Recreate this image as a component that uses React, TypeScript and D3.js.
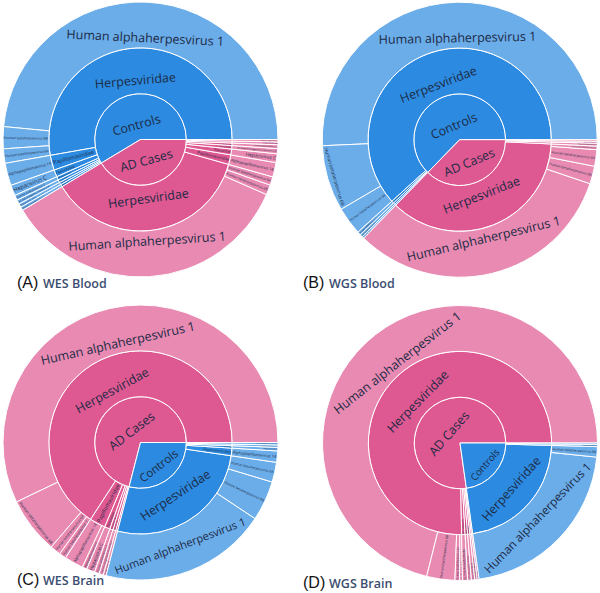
import React, { useMemo } from "react";
import * as d3 from "d3";

type Leaf = [string, string, string, number];

// group, family, species, share of reads (%)
const wesBlood: Leaf[] = [
  ["Controls", "Herpesviridae", "Human alphaherpesvirus 1", 48.5],
  ["Controls", "Herpesviridae", "Human betaherpesvirus 6B", 2.58],
  ["Controls", "Herpesviridae", "Human betaherpesvirus 6A", 1.69],
  ["Controls", "Papillomaviridae", "Alphapapillomavirus 14", 2.64],
  ["Controls", "Flaviviridae", "Hepacivirus C", 1.25],
  ["Controls", "Polyomaviridae", "Human polyomavirus 2", 0.61],
  ["Controls", "Retroviridae", "Human endogenous retrovirus K", 0.5],
  ["Controls", "Anelloviridae", "Torque teno virus", 0.42],
  ["Controls", "Adenoviridae", "Human mastadenovirus C", 0.42],
  ["AD Cases", "Herpesviridae", "Human alphaherpesvirus 1", 34.83],
  ["AD Cases", "Herpesviridae", "Human betaherpesvirus 6B", 1.17],
  ["AD Cases", "Herpesviridae", "Human betaherpesvirus 6A", 1.0],
  ["AD Cases", "Papillomaviridae", "Alphapapillomavirus 14", 1.69],
  ["AD Cases", "Flaviviridae", "Hepacivirus C", 1.03],
  ["AD Cases", "Retroviridae", "Human endogenous retrovirus K", 0.61],
  ["AD Cases", "Polyomaviridae", "Human polyomavirus 2", 0.44],
  ["AD Cases", "Anelloviridae", "Torque teno virus", 0.33],
  ["AD Cases", "Adenoviridae", "Human mastadenovirus C", 0.28],
];

const wgsBlood: Leaf[] = [
  ["Controls", "Herpesviridae", "Human alphaherpesvirus 1", 50.69],
  ["Controls", "Herpesviridae", "Human betaherpesvirus 6B", 7.75],
  ["Controls", "Herpesviridae", "Human betaherpesvirus 6A", 3.28],
  ["Controls", "Polyomaviridae", "Human polyomavirus 2", 0.42],
  ["Controls", "Papillomaviridae", "Alphapapillomavirus 14", 0.33],
  ["Controls", "Anelloviridae", "Torque teno virus", 0.22],
  ["AD Cases", "Herpesviridae", "Human alphaherpesvirus 1", 32.11],
  ["AD Cases", "Herpesviridae", "Human betaherpesvirus 6B", 2.08],
  ["AD Cases", "Herpesviridae", "Human betaherpesvirus 6A", 1.94],
  ["AD Cases", "Herpesviridae", "Human betaherpesvirus 7", 0.42],
  ["AD Cases", "Polyomaviridae", "Human polyomavirus 2", 0.33],
  ["AD Cases", "Papillomaviridae", "Alphapapillomavirus 14", 0.22],
  ["AD Cases", "Anelloviridae", "Torque teno virus", 0.19],
];

const wesBrain: Leaf[] = [
  ["AD Cases", "Herpesviridae", "Human alphaherpesvirus 1", 57.11],
  ["AD Cases", "Herpesviridae", "Human betaherpesvirus 6B", 6.64],
  ["AD Cases", "Herpesviridae", "Human betaherpesvirus 6A", 1.25],
  ["AD Cases", "Herpesviridae", "Human betaherpesvirus 7", 0.83],
  ["AD Cases", "Papillomaviridae", "Alphapapillomavirus 14", 2.22],
  ["AD Cases", "Papillomaviridae", "Alphapapillomavirus 9", 0.56],
  ["AD Cases", "Flaviviridae", "Hepacivirus C", 0.97],
  ["AD Cases", "Polyomaviridae", "Human polyomavirus 2", 0.56],
  ["AD Cases", "Retroviridae", "Human endogenous retrovirus K", 0.5],
  ["AD Cases", "Anelloviridae", "Torque teno virus", 0.33],
  ["Controls", "Herpesviridae", "Human alphaherpesvirus 1", 19.69],
  ["Controls", "Herpesviridae", "Human betaherpesvirus 6B", 4.69],
  ["Controls", "Herpesviridae", "Human betaherpesvirus 6A", 2.33],
  ["Controls", "Papillomaviridae", "Alphapapillomavirus 14", 1.33],
  ["Controls", "Flaviviridae", "Hepacivirus C", 0.42],
  ["Controls", "Polyomaviridae", "Human polyomavirus 2", 0.28],
  ["Controls", "Retroviridae", "Human endogenous retrovirus K", 0.28],
];

const wgsBrain: Leaf[] = [
  ["AD Cases", "Herpesviridae", "Human alphaherpesvirus 1", 71.11],
  ["AD Cases", "Herpesviridae", "Human betaherpesvirus 6B", 3.31],
  ["AD Cases", "Herpesviridae", "Human betaherpesvirus 6A", 0.56],
  ["AD Cases", "Herpesviridae", "Human betaherpesvirus 7", 0.31],
  ["AD Cases", "Papillomaviridae", "Alphapapillomavirus 14", 0.61],
  ["AD Cases", "Polyomaviridae", "Human polyomavirus 2", 0.44],
  ["AD Cases", "Anelloviridae", "Torque teno virus", 0.39],
  ["AD Cases", "Retroviridae", "Human endogenous retrovirus K", 0.28],
  ["AD Cases", "Flaviviridae", "Hepacivirus C", 0.22],
  ["Controls", "Herpesviridae", "Human alphaherpesvirus 1", 21.14],
  ["Controls", "Herpesviridae", "Human betaherpesvirus 6B", 1.22],
  ["Controls", "Polyomaviridae", "Human polyomavirus 2", 0.25],
  ["Controls", "Anelloviridae", "Torque teno virus", 0.17],
];

const panelTags = ["(A)", "(B)", "(C)", "(D)"];
const panelTitles = ["WES Blood", "WGS Blood", "WES Brain", "WGS Brain"];
const panelData = [wesBlood, wgsBlood, wesBrain, wgsBrain];

const GROUP_COLORS: Record<string, string> = {
  Controls: "#2c8ae0",
  "AD Cases": "#de5891",
};

const FONT = '"Open Sans", sans-serif';
const BASE = 12.5;
const TEXTPAD = 3;
const R = 137.5;

let ctx: CanvasRenderingContext2D | null = null;
function measure(text: string, size: number) {
  if (!ctx) ctx = document.createElement("canvas").getContext("2d");
  if (!ctx) return text.length * size * 0.55;
  ctx.font = `${size}px ${FONT}`;
  return ctx.measureText(text).width;
}

function buildTree(leaves: Leaf[]) {
  const root: any = { name: "", children: [] };
  for (const [g, f, s, v] of leaves) {
    let gn = root.children.find((c: any) => c.name === g);
    if (!gn) root.children.push((gn = { name: g, children: [] }));
    let fn = gn.children.find((c: any) => c.name === f);
    if (!fn) gn.children.push((fn = { name: f, children: [] }));
    fn.children.push({ name: s, value: v });
  }
  return root;
}

// same idea as plotly's inside-text fitting (horizontal / radial / tangential)
function maxHalf(a: number, half: number, r: number, ring: number) {
  const q = a + 1 / (2 * Math.tan(half));
  return r * Math.min(1 / (Math.sqrt(q * q + 0.5) + q), ring / (Math.sqrt(a * a + ring / 2) + a));
}

function fitText(w: number, h: number, r0: number, r1: number, da: number) {
  const half = 0.5 * Math.min(da, Math.PI);
  const ring = 1 - r0 / r1;
  const rIns = Math.max(0, Math.min(1 / (1 + 1 / Math.sin(half)), ring / 2));
  const hor = { scale: (rIns * r1 * 2) / Math.hypot(w, h), rc: 1 - rIns, mode: "h" };
  if (hor.scale >= 1) return hor;
  const r = Math.max(0, r1 - 2 * TEXTPAD);
  let a = w / h;
  let s = maxHalf(a, half, r, ring);
  const rad = { scale: (2 * s) / h, rc: Math.cos(s / r) - (a * s) / r, mode: "rad" };
  a = h / w;
  s = maxHalf(a, half, r, ring);
  const tan = { scale: (2 * s) / w, rc: Math.cos(s / r) - (a * s) / r, mode: "tan" };
  let best = hor;
  for (const t of [rad, tan]) if (t.scale > best.scale) best = t;
  return best;
}

const norm = (x: number) => ((((x % 180) + 270) % 180) + 180) % 180 - 90;

function Sunburst({ leaves, cx, cy }: { leaves: Leaf[]; cx: number; cy: number }) {
  const nodes = useMemo(() => {
    const root = d3
      .hierarchy<any>(buildTree(leaves))
      .sum((d) => d.value ?? 0)
      .sort((a, b) => (b.value ?? 0) - (a.value ?? 0));
    d3.partition<any>().size([2 * Math.PI, 4])(root);
    return (root.descendants() as any[]).filter((d) => d.depth > 0);
  }, [leaves]);

  const rScale = d3.scaleLinear().domain([1, 4]).range([0, R]);
  const arc = d3
    .arc<any>()
    .startAngle((d) => Math.PI / 2 - d.x1)
    .endAngle((d) => Math.PI / 2 - d.x0)
    .innerRadius((d) => rScale(d.y0))
    .outerRadius((d) => rScale(d.y1));

  const groupOf = (d: any) => (d.depth === 1 ? d : d.ancestors().find((a: any) => a.depth === 1));
  const h = BASE * 1.362;

  return (
    <g transform={`translate(${cx},${cy})`}>
      {nodes.map((d, i) => (
        <path
          key={"p" + i}
          d={arc(d) ?? ""}
          fill={GROUP_COLORS[groupOf(d).data.name]}
          fillOpacity={d.children ? 1 : 0.7}
          stroke="#fff"
          strokeWidth={1}
        />
      ))}
      {nodes.map((d, i) => {
        const r0 = rScale(d.y0);
        const r1 = rScale(d.y1);
        const da = d.x1 - d.x0;
        const mid = (d.x0 + d.x1) / 2;
        const w = measure(d.data.name, BASE);
        const t = fitText(w, h, r0, r1, da);
        const size = BASE * Math.min(1, t.scale);
        if (size < 1.2) return null;
        const rt = t.rc * r1;
        const x = rt * Math.cos(mid);
        const y = -rt * Math.sin(mid);
        const deg = (mid * 180) / Math.PI;
        const rot = t.mode === "h" ? 0 : t.mode === "rad" ? norm(-deg) : norm(90 - deg);
        return (
          <text
            key={"t" + i}
            transform={`translate(${x},${y}) rotate(${rot})`}
            textAnchor="middle"
            dy="0.36em"
            fontFamily={FONT}
            fontSize={size}
            fill="#1c2a45"
          >
            {d.data.name}
          </text>
        );
      })}
    </g>
  );
}

const centers = [
  [140.5, 139.5],
  [459.7, 139.7],
  [140.5, 442.5],
  [460, 443],
];
const labelPos = [
  [17, 288],
  [303, 288],
  [17, 585],
  [303, 588],
];

export default function App() {
  return (
    <svg
      width={600}
      height={593}
      style={{ position: "absolute", left: 0, top: 0, background: "#fff" }}
    >
      {panelData.map((leaves, i) => (
        <Sunburst key={i} leaves={leaves} cx={centers[i][0]} cy={centers[i][1]} />
      ))}
      {panelTags.map((tag, i) => (
        <g key={"l" + i}>
          <text
            x={labelPos[i][0]}
            y={labelPos[i][1]}
            fontFamily='"Liberation Sans", Arial, sans-serif'
            fontSize={16}
            fill="#111"
          >
            {tag}
          </text>
          <text
            x={labelPos[i][0] + 26}
            y={labelPos[i][1]}
            fontFamily={FONT}
            fontSize={12.5}
            fontWeight={600}
            fill="#3b4d70"
          >
            {panelTitles[i]}
          </text>
        </g>
      ))}
    </svg>
  );
}
